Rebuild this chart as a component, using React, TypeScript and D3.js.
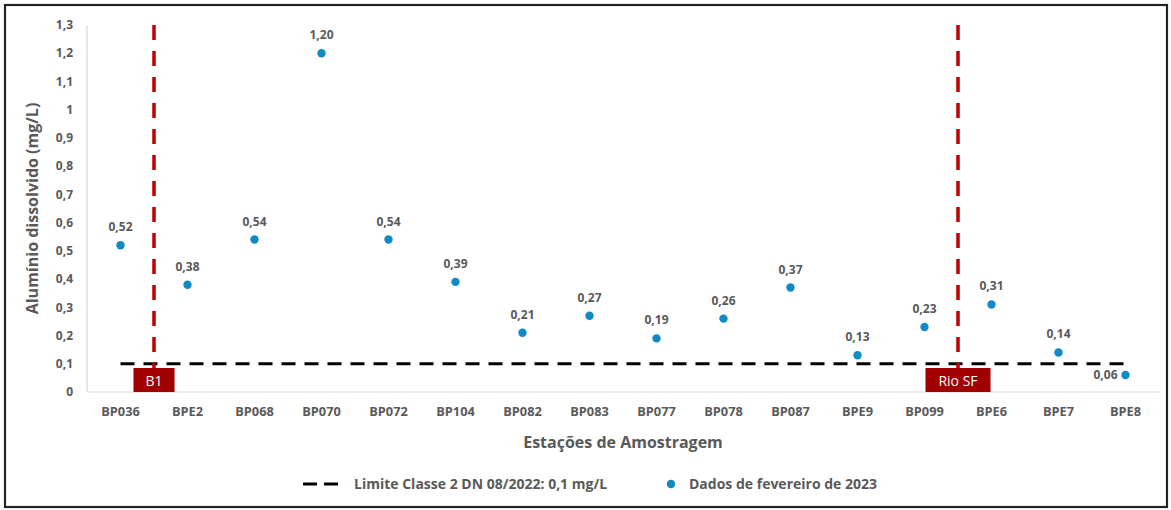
import React from "react";
import * as d3 from "d3";

const stations = ["BP036", "BPE2", "BP068", "BP070", "BP072", "BP104", "BP082", "BP083", "BP077", "BP078", "BP087", "BPE9", "BP099", "BPE6", "BPE7", "BPE8"];
const aluminio = [0.52, 0.38, 0.54, 1.2, 0.54, 0.39, 0.21, 0.27, 0.19, 0.26, 0.37, 0.13, 0.23, 0.31, 0.14, 0.06];
const yTicks = [0, 0.1, 0.2, 0.3, 0.4, 0.5, 0.6, 0.7, 0.8, 0.9, 1, 1.1, 1.2, 1.3];
const limite = 0.1;
// Reference markers placed between two stations: [station before, label]
const marcos = [
  { after: "BP036", label: "B1" },
  { after: "BP099", label: "Rio SF" },
];

const W = 1171;
const H = 510;
const FONT = "'Open Sans', 'DejaVu Sans', sans-serif";
const GRAY = "#595959";
const BLUE = "#0f8ac4";
const RED = "#c00000";
const DARKRED = "#a00000";

const fmt = (v: number) => v.toFixed(2).replace(".", ",");
const fmtTick = (v: number) => String(Math.round(v * 10) / 10).replace(".", ",");

export default function App() {
  const left = 87;
  const right = 1159;
  const top = 25;
  const bottom = 392;

  const x = d3.scaleBand<string>().domain(stations).range([left, right]);
  const y = d3.scaleLinear().domain([0, 1.3]).range([bottom, top]);
  const cx = (s: string) => (x(s) as number) + x.bandwidth() / 2;

  const first = cx(stations[0]);
  const last = cx(stations[stations.length - 1]);

  return (
    <svg width={W} height={H} style={{ position: "absolute", left: 0, top: 0, background: "#fff" }} fontFamily={FONT}>
      <rect x={5} y={5} width={1162} height={502} fill="#fff" stroke="#222" strokeWidth={2.2} />

      {/* axes */}
      <line x1={left} x2={left} y1={y(1.3)} y2={bottom} stroke="#d9d9d9" strokeWidth={1.2} />
      <line x1={left} x2={right} y1={bottom} y2={bottom} stroke="#d9d9d9" strokeWidth={1.2} />

      {yTicks.map((t) => (
        <text key={t} x={73} y={y(t)} dy="0.35em" textAnchor="end" fontSize={12} fontWeight={700} fill={GRAY}>
          {fmtTick(t)}
        </text>
      ))}

      {stations.map((s) => (
        <text key={s} x={cx(s)} y={416} textAnchor="middle" fontSize={12.8} fontWeight={700} fill={GRAY}>
          {s}
        </text>
      ))}

      <text x={(left + right) / 2} y={448} textAnchor="middle" fontSize={16} fontWeight={700} fill={GRAY}>
        Estações de Amostragem
      </text>
      <text
        transform={`translate(38, ${(top + bottom) / 2}) rotate(-90)`}
        textAnchor="middle"
        fontSize={16}
        fontWeight={700}
        fill={GRAY}
      >
        Alumínio dissolvido (mg/L)
      </text>

      {/* limit line */}
      <line x1={first} x2={last} y1={y(limite)} y2={y(limite)} stroke="#000" strokeWidth={3} strokeDasharray="14 9" />

      {/* station group markers */}
      {marcos.map((m) => {
        const xm = (x(m.after) as number) + x.bandwidth();
        const bw = m.label.length > 2 ? 65 : 41;
        return (
          <g key={m.label}>
            <line x1={xm} x2={xm} y1={y(1.3)} y2={368} stroke={RED} strokeWidth={3.5} strokeDasharray="15 11" />
            <rect x={xm - bw / 2} y={368} width={bw} height={bottom - 368} fill={DARKRED} />
            <text x={xm} y={386} textAnchor="middle" fontSize={14} fill="#fff">
              {m.label}
            </text>
          </g>
        );
      })}

      {/* points + labels */}
      {stations.map((s, i) => {
        const v = aluminio[i];
        const isLast = i === stations.length - 1;
        return (
          <g key={s}>
            <circle cx={cx(s)} cy={y(v)} r={4.2} fill={BLUE} />
            {isLast ? (
              <text x={cx(s) - 8} y={y(v)} dy="0.35em" textAnchor="end" fontSize={12} fontWeight={700} fill={GRAY}>
                {fmt(v)}
              </text>
            ) : (
              <text x={cx(s)} y={y(v) - 14} textAnchor="middle" fontSize={12} fontWeight={700} fill={GRAY}>
                {fmt(v)}
              </text>
            )}
          </g>
        );
      })}

      {/* legend */}
      <line x1={303} x2={338} y1={484} y2={484} stroke="#000" strokeWidth={3} strokeDasharray="14 7" />
      <text x={354} y={484} dy="0.35em" fontSize={14} fontWeight={700} fill={GRAY}>
        Limite Classe 2 DN 08/2022: 0,1 mg/L
      </text>
      <circle cx={671} cy={484} r={4.2} fill={BLUE} />
      <text x={689} y={484} dy="0.35em" fontSize={14} fontWeight={700} fill={GRAY}>
        Dados de fevereiro de 2023
      </text>
    </svg>
  );
}
